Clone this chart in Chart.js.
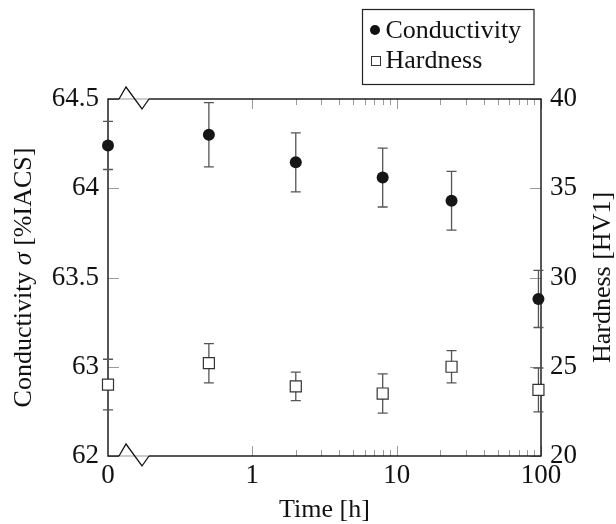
<!DOCTYPE html>
<html>
<head>
<meta charset="utf-8">
<script src="https://cdn.jsdelivr.net/npm/chart.js@4.4.1/dist/chart.umd.min.js"></script>
<style>
  html, body { margin: 0; padding: 0; background: #fff; }
</style>
</head>
<body>
<canvas id="chart" width="616" height="524"></canvas>
<script>
// DATA
const times = [0, 0.5, 2, 8, 24, 96];
const conductivity = [64.24, 64.3, 64.145, 64.06, 63.93, 63.38];
const conductivity_err = [0.135, 0.18, 0.165, 0.165, 0.165, 0.16];
const hardness = [24.0, 25.2, 23.9, 23.5, 25.0, 23.7];
const hardness_err = [1.42, 1.1, 0.8, 1.1, 0.9, 1.23];

// TICKS
const x_tick_values = [0.1, 1, 10, 100];
const x_tick_labels = ['0', '1', '10', '100'];
const x_minor_ticks = [2, 3, 4, 5, 6, 7, 8, 9, 20, 30, 40, 50, 60, 70, 80, 90];
const left_tick_values = [62.5, 63, 63.5, 64, 64.5];
const left_tick_labels = ['62', '63', '63.5', '64', '64.5'];
const right_tick_values = [20, 25, 30, 35, 40];
const right_tick_labels = ['20', '25', '30', '35', '40'];
const zero_time_pos = 0.1; // t = 0 is drawn here, behind the axis break

const FONT = 'Liberation Serif';
const tick_font = { family: FONT, size: 27 };
const TEXT_PX = 26;

// t = 0 can't sit on a log axis, so put it at the break position
const toX = t => (t === 0 ? zero_time_pos : t);

// ---------------------------------------------
//  FRAME, TICKS, ERROR BARS, LEGEND, TITLES
// ---------------------------------------------
const decorations = {
  id: 'decorations',
  beforeDatasetsDraw(chart) {
    const ctx = chart.ctx;
    const a = chart.chartArea;
    const sx = chart.scales.x, sy = chart.scales.y, sy2 = chart.scales.y2;
    ctx.save();

    // inward ticks
    ctx.strokeStyle = '#9a9a9a';
    ctx.lineWidth = 1;
    ctx.beginPath();
    left_tick_values.forEach(v => {
      const y = Math.round(sy.getPixelForValue(v)) + 0.5;
      ctx.moveTo(a.left, y);
      ctx.lineTo(a.left + 11, y);
    });
    right_tick_values.forEach(v => {
      const y = Math.round(sy2.getPixelForValue(v)) + 0.5;
      ctx.moveTo(a.right, y);
      ctx.lineTo(a.right - 11, y);
    });
    x_tick_values.slice(1).forEach(v => {
      const x = Math.round(sx.getPixelForValue(v)) + 0.5;
      ctx.moveTo(x, a.bottom); ctx.lineTo(x, a.bottom - 10);
      ctx.moveTo(x, a.top); ctx.lineTo(x, a.top + 10);
    });
    x_minor_ticks.forEach(v => {
      const x = Math.round(sx.getPixelForValue(v)) + 0.5;
      ctx.moveTo(x, a.bottom); ctx.lineTo(x, a.bottom - 6);
      ctx.moveTo(x, a.top); ctx.lineTo(x, a.top + 6);
    });
    ctx.stroke();

    // frame
    ctx.strokeStyle = '#111';
    ctx.lineWidth = 1.4;
    ctx.strokeRect(a.left, a.top, a.right - a.left, a.bottom - a.top);

    // error bars
    ctx.strokeStyle = '#555';
    ctx.lineWidth = 1.3;
    const bars = [
      { values: conductivity, errs: conductivity_err, scale: sy, meta: chart.getDatasetMeta(0) },
      { values: hardness, errs: hardness_err, scale: sy2, meta: chart.getDatasetMeta(1) },
    ];
    bars.forEach(b => {
      b.meta.data.forEach((pt, i) => {
        const x = pt.x;
        const y1 = b.scale.getPixelForValue(b.values[i] + b.errs[i]);
        const y2 = b.scale.getPixelForValue(b.values[i] - b.errs[i]);
        ctx.beginPath();
        ctx.moveTo(x, y1); ctx.lineTo(x, y2);
        ctx.moveTo(x - 5, y1); ctx.lineTo(x + 5, y1);
        ctx.moveTo(x - 5, y2); ctx.lineTo(x + 5, y2);
        ctx.stroke();
      });
    });
    ctx.restore();
  },
  afterDraw(chart) {
    const ctx = chart.ctx;
    const a = chart.chartArea;
    ctx.save();

    // axis break marks (top and bottom)
    [a.top, a.bottom].forEach(yb => {
      const x0 = a.left + 11;
      ctx.strokeStyle = '#fff';
      ctx.lineWidth = 3;
      ctx.beginPath();
      ctx.moveTo(x0, yb); ctx.lineTo(x0 + 30, yb);
      ctx.stroke();
      ctx.strokeStyle = '#999';
      ctx.lineWidth = 1;
      ctx.beginPath();
      ctx.moveTo(x0, yb); ctx.lineTo(x0 + 30, yb);
      ctx.stroke();
      ctx.strokeStyle = '#111';
      ctx.lineWidth = 1.3;
      ctx.beginPath();
      ctx.moveTo(x0, yb);
      ctx.lineTo(x0 + 7, yb - 12);
      ctx.lineTo(x0 + 23, yb + 10);
      ctx.lineTo(x0 + 30, yb);
      ctx.stroke();
    });

    // legend
    const lx = 362.5, ly = 9.5, lw = 171.5, lh = 75;
    ctx.strokeStyle = '#222';
    ctx.lineWidth = 1.2;
    ctx.strokeRect(lx, ly, lw, lh);
    ctx.font = `${TEXT_PX}px "${FONT}"`;
    ctx.fillStyle = '#111';
    ctx.textBaseline = 'middle';
    ctx.textAlign = 'left';
    const ds = chart.data.datasets;
    ctx.beginPath();
    ctx.arc(lx + 12.5, 30, 5, 0, Math.PI * 2);
    ctx.fill();
    ctx.fillText(ds[0].label, lx + 23, 31);
    ctx.lineWidth = 1;
    ctx.strokeStyle = '#333';
    ctx.strokeRect(lx + 9, 56.5, 9, 9);
    ctx.fillText(ds[1].label, lx + 23, 61);

    // axis titles
    const midY = (a.top + a.bottom) / 2;
    ctx.fillStyle = '#111';
    ctx.textAlign = 'center';
    ctx.font = `${TEXT_PX}px "${FONT}"`;
    ctx.fillText('Time [h]', (a.left + a.right) / 2, 510);

    // left title with italic sigma
    const parts = [
      { t: 'Conductivity ', f: `${TEXT_PX}px "${FONT}"` },
      { t: 'σ', f: `italic ${TEXT_PX}px "${FONT}"` },
      { t: ' [%IACS]', f: `${TEXT_PX}px "${FONT}"` },
    ];
    let total = 0;
    parts.forEach(p => { ctx.font = p.f; p.w = ctx.measureText(p.t).width; total += p.w; });
    ctx.translate(24, midY);
    ctx.rotate(-Math.PI / 2);
    ctx.textAlign = 'left';
    let px = -total / 2;
    parts.forEach(p => { ctx.font = p.f; ctx.fillText(p.t, px, 0); px += p.w; });
    ctx.setTransform(1, 0, 0, 1, 0, 0);

    ctx.translate(603, midY);
    ctx.rotate(-Math.PI / 2);
    ctx.textAlign = 'center';
    ctx.font = `${TEXT_PX}px "${FONT}"`;
    ctx.fillText('Hardness [HV1]', 0, 0);
    ctx.restore();
  },
};

const ctx = document.getElementById('chart').getContext('2d');

new Chart(ctx, {
  type: 'scatter',
  data: {
    datasets: [
      {
        label: 'Conductivity',
        data: times.map((t, i) => ({ x: toX(t), y: conductivity[i] })),
        yAxisID: 'y',
        pointStyle: 'circle',
        pointRadius: 6,
        pointHoverRadius: 6,
        backgroundColor: '#161616',
        borderColor: '#161616',
        borderWidth: 0,
        clip: false,
      },
      {
        label: 'Hardness',
        data: times.map((t, i) => ({ x: toX(t), y: hardness[i] })),
        yAxisID: 'y2',
        pointStyle: 'rect',
        pointRadius: 7.8,
        pointHoverRadius: 7.8,
        backgroundColor: '#fff',
        borderColor: '#333',
        borderWidth: 1.2,
        clip: false,
      },
    ],
  },
  options: {
    responsive: false,
    devicePixelRatio: 1,
    animation: false,
    layout: { padding: { top: 99, left: 0, right: 0, bottom: 0 } },
    plugins: { legend: { display: false }, tooltip: { enabled: false } },
    scales: {
      x: {
        type: 'logarithmic',
        min: 0.1,
        max: 100,
        grid: { display: false, drawTicks: false },
        border: { display: false },
        afterBuildTicks: s => { s.ticks = x_tick_values.map(v => ({ value: v })); },
        afterFit: s => { s.height = 68; },
        ticks: {
          font: tick_font,
          color: '#111',
          padding: 4,
          autoSkip: false,
          maxRotation: 0,
          callback: v => x_tick_labels[x_tick_values.indexOf(v)],
        },
      },
      y: {
        position: 'left',
        min: 62.5,
        max: 64.5,
        grid: { display: false, drawTicks: false },
        border: { display: false },
        afterBuildTicks: s => { s.ticks = left_tick_values.map(v => ({ value: v })); },
        afterFit: s => { s.width = 108; },
        ticks: {
          font: tick_font,
          color: '#111',
          padding: 9,
          callback: v => left_tick_labels[left_tick_values.indexOf(v)],
        },
      },
      y2: {
        position: 'right',
        min: 20,
        max: 40,
        grid: { display: false, drawTicks: false },
        border: { display: false },
        afterBuildTicks: s => { s.ticks = right_tick_values.map(v => ({ value: v })); },
        afterFit: s => { s.width = 75; },
        ticks: {
          font: tick_font,
          color: '#111',
          padding: 9,
          callback: v => right_tick_labels[right_tick_values.indexOf(v)],
        },
      },
    },
  },
  plugins: [decorations],
});
</script>
</body>
</html>
